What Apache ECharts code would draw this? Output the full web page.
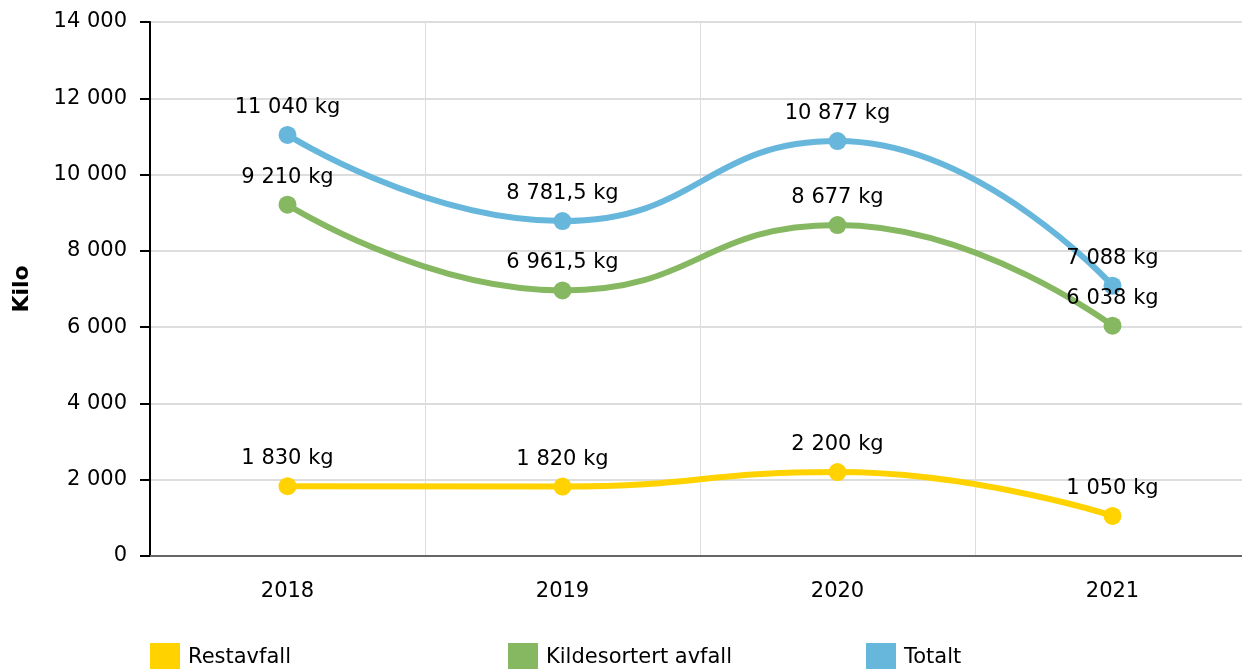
<!DOCTYPE html>
<html lang="no">
<head>
    <meta charset="UTF-8">
    <title>Avfall</title>
    <style>
        html, body { margin: 0; padding: 0; background: #fff; overflow: hidden; }
        /* slightly wider than the window: the last column runs past the right edge */
        #container { width: 1250px; height: 669px; }
    </style>
</head>
<body>
<div id="container"></div>
<script src="https://cdn.jsdelivr.net/npm/echarts@6/dist/echarts.min.js"></script>
<script type="text/javascript">
    var years = ['2018', '2019', '2020', '2021'];
    var restavfall = [1830, 1820, 2200, 1050];
    var kildesortert = [9210, 6961.5, 8677, 6038];
    var totalt = [11040, 8781.5, 10877, 7088];
    var seriesNames = ['Restavfall', 'Kildesortert avfall', 'Totalt'];
    var colors = ['#FFD200', '#86B862', '#67B7DC'];
    var legendLeft = [150, 508, 866];

    var font = 'Verdana, "DejaVu Sans", sans-serif';

    // 12345.5 -> "12 345,5"
    function fmt(v) {
        var parts = String(v).split('.');
        var s = parts[0].replace(/\B(?=(\d{3})+(?!\d))/g, ' ');
        return parts.length > 1 ? s + ',' + parts[1] : s;
    }

    function line(name, data, color) {
        return {
            name: name,
            type: 'line',
            smooth: true,
            data: data,
            symbol: 'circle',
            symbolSize: 18,
            lineStyle: { width: 6, color: color },
            itemStyle: { color: color },
            label: {
                show: true,
                position: 'top',
                distance: 8,
                color: '#000',
                fontFamily: font,
                fontSize: 21,
                formatter: function (p) { return fmt(p.value) + ' kg'; }
            }
        };
    }

    // one legend per series so each sits at its own column
    var legends = seriesNames.map(function (n, i) {
        return {
            data: [n],
            left: legendLeft[i],
            top: 643,
            itemWidth: 30,
            itemHeight: 30,
            icon: 'rect',
            padding: 0,
            textStyle: {
                color: '#000',
                fontFamily: font,
                fontSize: 21,
                padding: [0, 0, 0, 3]
            }
        };
    });

    var chart = echarts.init(document.getElementById('container'));
    chart.setOption({
        animation: false,
        color: colors,
        grid: { left: 150, right: 0, top: 22, bottom: 113 },
        legend: legends,
        xAxis: {
            type: 'category',
            data: years,
            boundaryGap: true,
            axisLine: { lineStyle: { color: '#666', width: 2 } },
            axisTick: { alignWithLabel: true, length: 10, lineStyle: { color: '#bbb' } },
            axisLabel: { color: '#000', fontFamily: font, fontSize: 21, margin: 25 },
            splitLine: { show: true, lineStyle: { color: '#ddd' } }
        },
        yAxis: {
            type: 'value',
            min: 0,
            max: 14000,
            interval: 2000,
            name: 'Kilo',
            nameLocation: 'middle',
            nameGap: 117,
            nameRotate: 90,
            nameTextStyle: { color: '#000', fontFamily: font, fontSize: 22, fontWeight: 'bold' },
            axisLine: { show: true, lineStyle: { color: '#000', width: 2 } },
            axisTick: { show: true, length: 10, lineStyle: { color: '#000', width: 2 } },
            axisLabel: {
                color: '#000', fontFamily: font, fontSize: 21, margin: 23,
                formatter: function (v) { return fmt(v); }
            },
            splitLine: { lineStyle: { color: '#ddd', width: 2 } }
        },
        series: [
            line(seriesNames[0], restavfall, colors[0]),
            line(seriesNames[1], kildesortert, colors[1]),
            line(seriesNames[2], totalt, colors[2])
        ]
    });
</script>
</body>
</html>
